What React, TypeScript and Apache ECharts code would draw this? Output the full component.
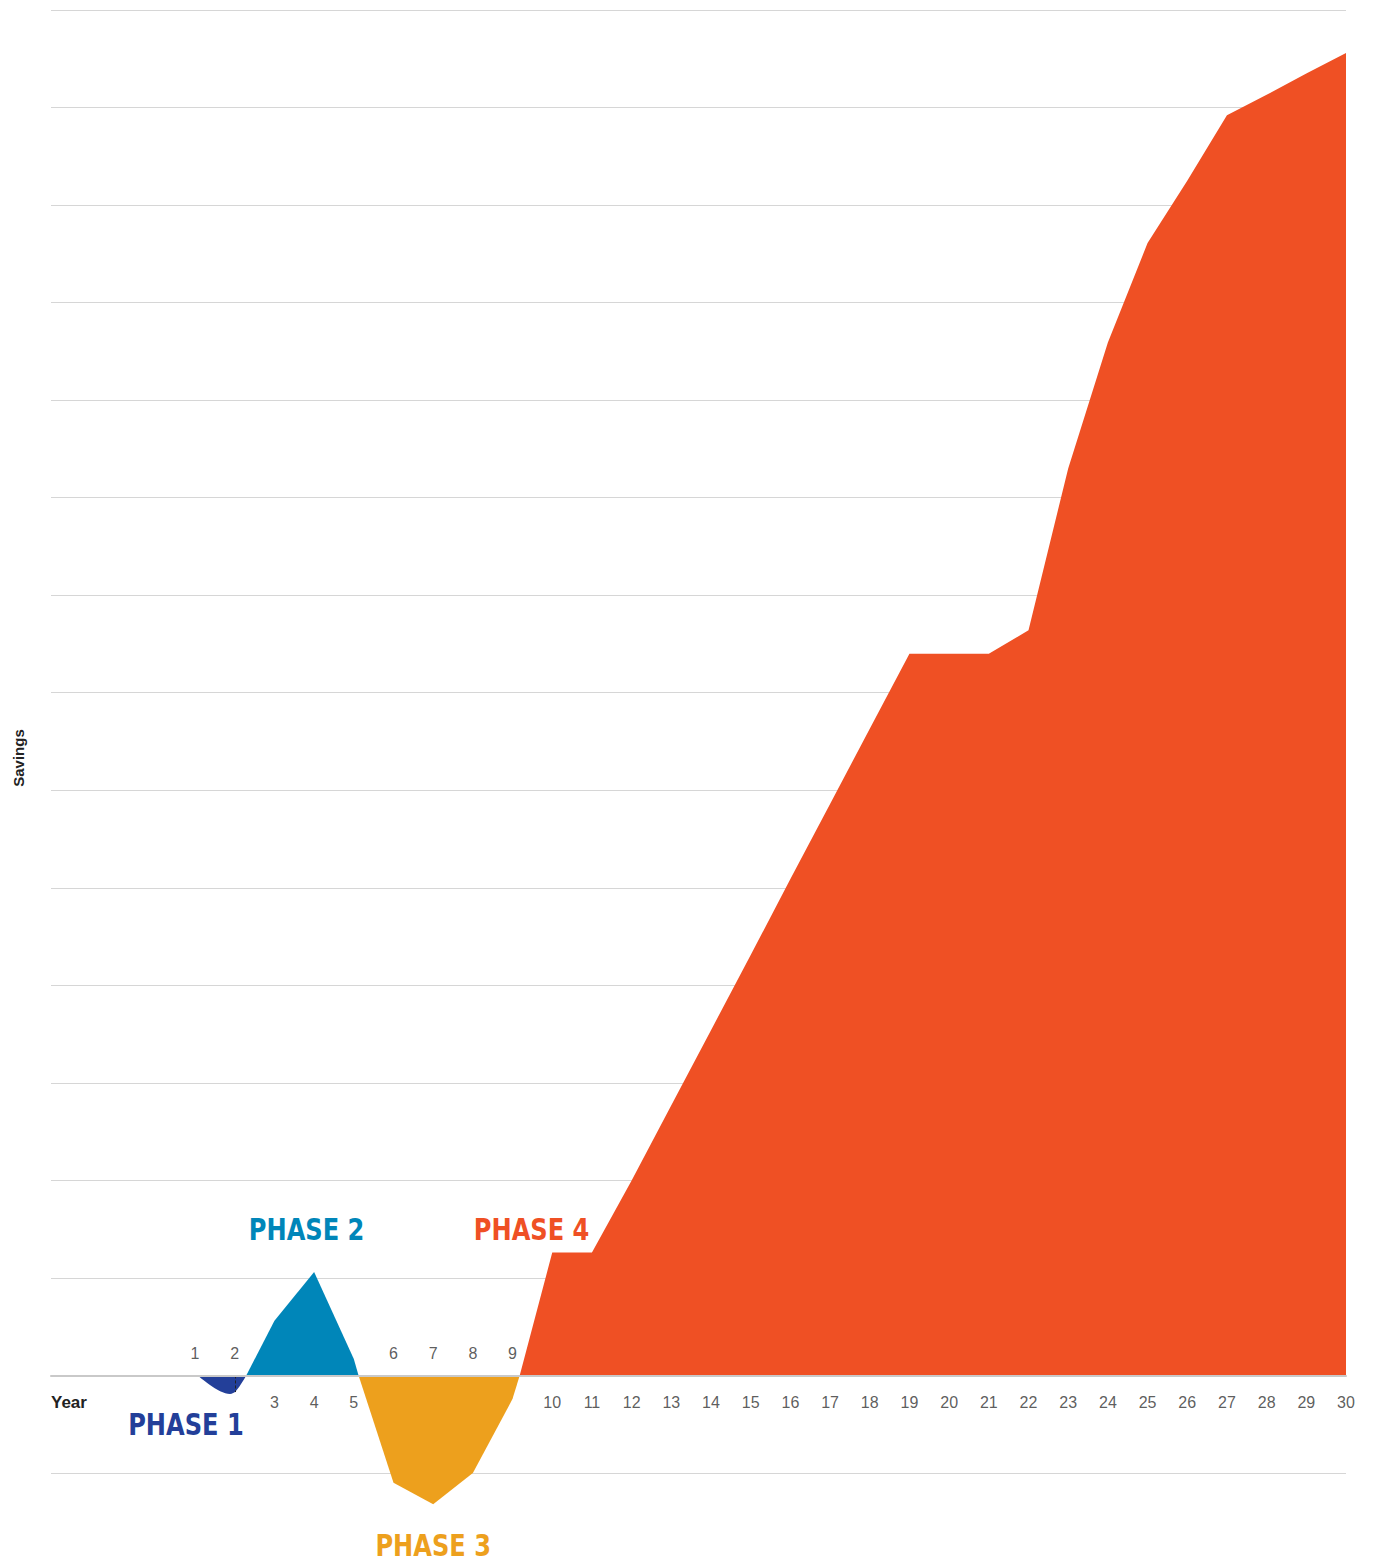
import React, { useEffect, useRef } from "react";
import * as echarts from "echarts";

// ---- data ----
const years = [1, 2, 3, 4, 5, 6, 7, 8, 9, 10, 11, 12, 13, 14, 15, 16, 17, 18, 19, 20, 21, 22, 23, 24, 25, 26, 27, 28, 29, 30];
const yearsLabelAbove = [1, 2, 6, 7, 8, 9];

const phase1 = [[1.07, 0], [1.88, -0.19], [2.03, -0.16], [2.29, 0]];
const phase2 = [[2.29, 0], [3, 0.56], [4, 1.06], [5, 0.17], [5.12, 0]];
const phase3 = [[5.12, 0], [6, -1.1], [7, -1.32], [8, -1.0], [9, -0.24], [9.18, 0]];
const phase4 = [
  [9.18, 0], [10, 1.26], [11, 1.26], [12, 2.0], [13, 2.77], [14, 3.54], [15, 4.31], [16, 5.09],
  [17, 5.86], [18, 6.63], [19, 7.4], [20, 7.4], [21, 7.4], [22, 7.64], [23, 9.3], [24, 10.59],
  [25, 11.61], [26, 12.25], [27, 12.92], [28, 13.13], [29, 13.35], [30, 13.56],
];
const phaseNames = ["PHASE 1", "PHASE 2", "PHASE 3", "PHASE 4"];
const phaseColors = ["#233f99", "#0086b9", "#eda01d", "#ef5024"];
const phaseLabelPos = [[0.77, -0.5], [3.81, 1.5], [7.0, -1.74], [9.48, 1.5]];
const phase1Marker = [2, -0.17];

const xMin = -2.63;
const xMax = 30;
const yMin = -1;
const yMax = 14;

const baseFont = "'Liberation Sans', Arial, sans-serif";

export default function App() {
  const ref = useRef<HTMLDivElement>(null);
  useEffect(() => {
    if (!ref.current) return;
    document.body.style.margin = "0";
    const chart = echarts.init(ref.current, null, { renderer: "svg" });
    const areaSeries = [phase1, phase2, phase3, phase4].map((d, i) => ({
      type: "line",
      name: phaseNames[i],
      data: d,
      symbol: "none",
      clip: false,
      smooth: i === 0 ? 0.35 : false,
      lineStyle: { width: 0, color: phaseColors[i] },
      itemStyle: { color: phaseColors[i] },
      areaStyle: { color: phaseColors[i], opacity: 1 },
      z: 2,
      markLine:
        i === 0
          ? {
              silent: true,
              symbol: "none",
              label: { show: false },
              lineStyle: { type: [3, 2], color: "#222", width: 1 },
              data: [[{ coord: [phase1Marker[0], 0] }, { coord: phase1Marker }]],
            }
          : undefined,
    }));
    const yearLabelSeries = {
      type: "scatter",
      name: "years",
      symbolSize: 1,
      itemStyle: { color: "rgba(0,0,0,0)" },
      z: 6,
      silent: true,
      data: years.map((y) => {
        const above = yearsLabelAbove.includes(y);
        return {
          value: [y, 0],
          label: {
            show: true,
            formatter: String(y),
            position: above ? "top" : "bottom",
            distance: above ? 13 : 19,
            fontSize: 16,
            color: "#333",
            fontFamily: baseFont,
          },
        };
      }),
    };
    const staticGraphics = [
      {
        type: "text",
        x: 18,
        y: 758,
        rotation: Math.PI / 2,
        style: {
          text: "Savings",
          fontSize: 15,
          fontWeight: "bold",
          fill: "#222",
          align: "center",
          verticalAlign: "middle",
          fontFamily: baseFont,
        },
      },
      {
        type: "text",
        x: 51,
        y: 1402,
        style: {
          text: "Year",
          fontSize: 17,
          fontWeight: "bold",
          fill: "#222",
          align: "left",
          verticalAlign: "middle",
          fontFamily: baseFont,
        },
      },
    ];
    chart.setOption({
      animation: false,
      backgroundColor: "#fff",
      textStyle: { fontFamily: baseFont },
      grid: { left: 51, right: 28, top: 10, bottom: 93, containLabel: false },
      xAxis: {
        type: "value",
        min: xMin,
        max: xMax,
        z: 5,
        axisLabel: { show: false },
        axisTick: { show: false },
        splitLine: { show: false },
        axisLine: { show: true, onZero: true, lineStyle: { color: "#c9c9c9", width: 2 } },
      },
      yAxis: {
        type: "value",
        min: yMin,
        max: yMax,
        interval: 1,
        axisLabel: { show: false },
        axisTick: { show: false },
        axisLine: { show: false },
        splitLine: { show: true, lineStyle: { color: "#d6d6d6", width: 1 } },
      },
      graphic: staticGraphics,
      series: [...areaSeries, yearLabelSeries],
    });
    const phaseGraphics = phaseLabelPos.map((p, i) => {
      const px = chart.convertToPixel({ gridIndex: 0 }, p) as number[];
      return {
        type: "text",
        x: px[0],
        y: px[1],
        scaleX: 0.865,
        z: 10,
        style: {
          text: phaseNames[i],
          fill: phaseColors[i],
          fontSize: 31,
          fontWeight: "bold",
          fontFamily: "'DejaVu Sans Condensed', 'DejaVu Sans', sans-serif",
          align: "center",
          verticalAlign: "middle",
        },
      };
    });
    chart.setOption({ graphic: [...staticGraphics, ...phaseGraphics] });
    return () => chart.dispose();
  }, []);
  return <div ref={ref} style={{ width: 1374, height: 1566 }} />;
}
